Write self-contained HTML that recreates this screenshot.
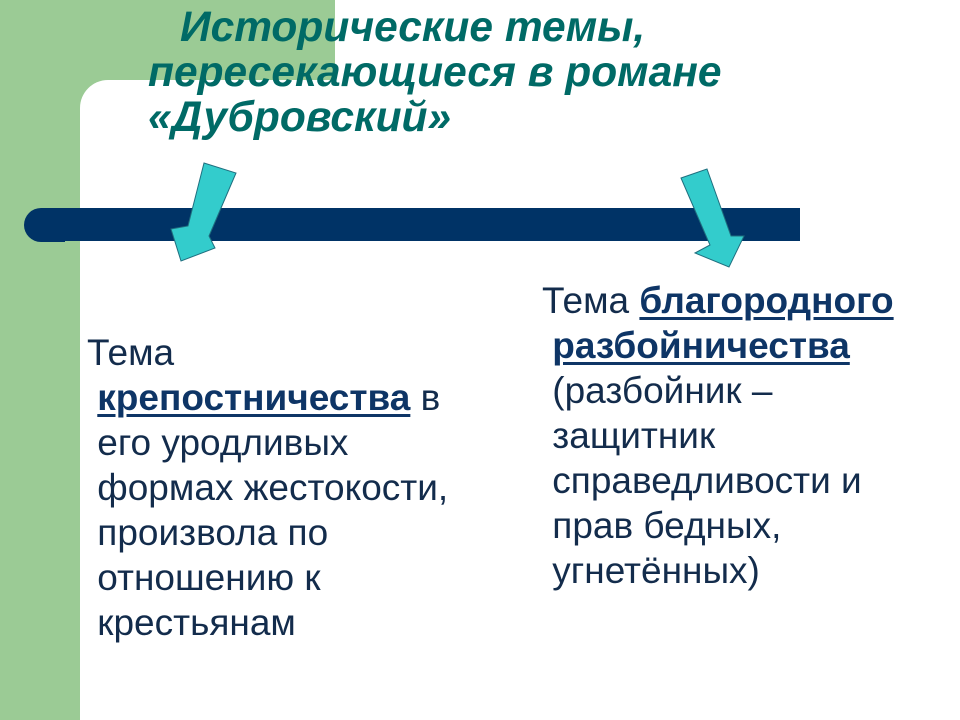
<!DOCTYPE html>
<html><head><meta charset="utf-8"><style>
html,body{margin:0;padding:0;}
body{width:960px;height:720px;position:relative;overflow:hidden;background:#fff;font-family:"Liberation Sans",sans-serif;}
.g1{position:absolute;left:0;top:0;width:80px;height:720px;background:#9bcb95;}
.g2{position:absolute;left:0;top:0;width:335px;height:80px;background:#9bcb95;}
.g3{position:absolute;left:80px;top:80px;width:40px;height:40px;background:#9bcb95;}
.w{position:absolute;left:80px;top:80px;width:60px;height:60px;background:#fff;border-top-left-radius:28px;}
.title{position:absolute;left:148px;top:5px;font-size:42.5px;font-weight:bold;font-style:italic;color:#006a66;line-height:45px;white-space:pre;}
.t{position:absolute;font-size:37px;color:#132c4c;line-height:45px;white-space:pre;}
.t b{color:#0e3566;text-decoration:underline;text-decoration-thickness:3px;text-underline-offset:4px;}
</style></head><body>
<div class="g1"></div><div class="g2"></div><div class="g3"></div><div class="w"></div>
<div class="title"><span style="padding-left:32px"></span>Исторические темы,
пересекающиеся в романе
«Дубровский»</div>
<svg width="960" height="720" style="position:absolute;left:0;top:0">
<path d="M41 208 H800 V241 H65 V242 H41 A17 17 0 0 1 41 208 Z" fill="#003366"/>
<polygon points="204,163 236,173 209,236 215,248 181,261 171,229 188,226" fill="#33cccc" stroke="#1f6f7f" stroke-width="1"/>
<polygon points="681,178 707,169 731,236 744,236 729,267 695,253 710,245" fill="#33cccc" stroke="#1f6f7f" stroke-width="1"/>
</svg>
<div class="t" style="left:87px;top:330px">Тема
 <b>крепостничества</b> в
 его уродливых
 формах жестокости,
 произвола по
 отношению к
 крестьянам</div>
<div class="t" style="left:542px;top:278px">Тема <b>благородного</b>
 <b>разбойничества</b>
 (разбойник –
 защитник
 справедливости и
 прав бедных,
 угнетённых)</div>
</body></html>
